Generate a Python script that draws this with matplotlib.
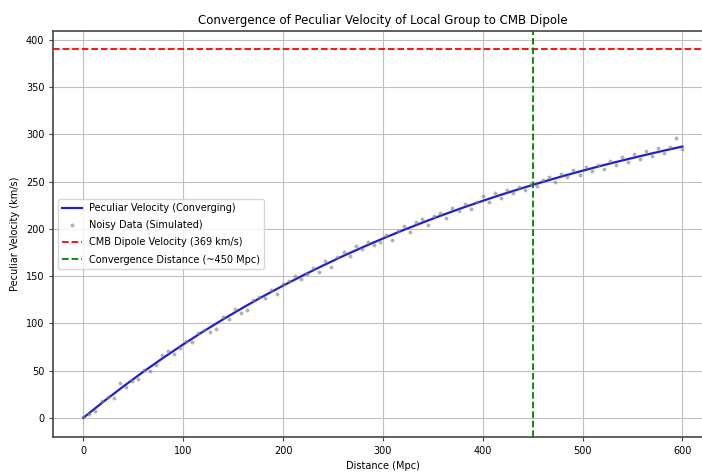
import numpy as np
import matplotlib
matplotlib.use('Agg')
import matplotlib.pyplot as plt

# smooth converging curve
dist_curve = [0, 20, 40, 60, 80, 100, 120, 140, 160, 180, 200, 220, 240, 260, 280,
              300, 320, 340, 360, 380, 400, 420, 440, 460, 480, 500, 520, 540, 560,
              580, 600]
vel_curve = [0.0, 17.0, 33.2, 48.7, 63.5, 77.7, 91.3, 104.3, 116.7, 128.6, 139.9,
             150.8, 161.2, 171.2, 180.7, 189.8, 198.5, 206.8, 214.8, 222.4, 229.7,
             236.7, 243.3, 249.7, 255.8, 261.6, 267.2, 272.5, 277.6, 282.5, 287.2]

# noisy simulated points
dist_noisy = [0.0, 6.1, 12.1, 18.2, 24.2, 30.3, 36.4, 42.4, 48.5, 54.5, 60.6, 66.7,
              72.7, 78.8, 84.8, 90.9, 97.0, 103.0, 109.1, 115.2, 121.2, 127.3, 133.3,
              139.4, 145.5, 151.5, 157.6, 163.6, 169.7, 175.8, 181.8, 187.9, 193.9,
              200.0, 206.1, 212.1, 218.2, 224.2, 230.3, 236.4, 242.4, 248.5, 254.5,
              260.6, 266.7, 272.7, 278.8, 284.8, 290.9, 297.0, 303.0, 309.1, 315.2,
              321.2, 327.3, 333.3, 339.4, 345.5, 351.5, 357.6, 363.6, 369.7, 375.8,
              381.8, 387.9, 393.9, 400.0, 406.1, 412.1, 418.2, 424.2, 430.3, 436.4,
              442.4, 448.5, 454.5, 460.6, 466.7, 472.7, 478.8, 484.8, 490.9, 497.0,
              503.0, 509.1, 515.2, 521.2, 527.3, 533.3, 539.4, 545.5, 551.5, 557.6,
              563.6, 569.7, 575.8, 581.8, 587.9, 593.9, 600.0]
vel_noisy = [1.0, 4.0, 7.5, 18.0, 22.5, 21.0, 36.5, 33.0, 39.0, 41.5, 51.0, 49.5,
             56.0, 66.0, 70.5, 67.5, 74.0, 81.5, 80.0, 89.5, 93.0, 90.5, 94.0, 106.5,
             105.0, 115.0, 110.5, 114.0, 124.5, 128.0, 127.0, 135.5, 131.0, 141.5,
             145.0, 150.5, 147.0, 152.0, 159.0, 154.5, 165.5, 160.0, 170.0, 175.5,
             171.0, 182.0, 178.5, 186.0, 182.5, 186.0, 193.5, 188.0, 198.0, 203.5,
             197.0, 207.0, 210.5, 204.0, 213.5, 217.0, 211.5, 222.0, 219.0, 226.5,
             221.0, 229.0, 234.5, 228.0, 237.5, 232.5, 241.0, 238.0, 244.5, 241.5,
             248.0, 245.0, 251.5, 255.0, 249.5, 258.0, 254.5, 262.0, 257.0, 265.5,
             261.5, 268.0, 263.5, 272.0, 267.5, 276.5, 271.0, 279.0, 274.5, 282.0,
             277.0, 285.5, 280.5, 287.0, 296.5, 285.0]

cmb_velocity = 390
conv_distance = 450

fig = plt.figure(figsize=(7.02, 4.72), dpi=100)
ax = fig.add_axes([0.0761, 0.0748, 0.9386, 0.8595])

ax.plot(dist_curve, vel_curve, color='#1f1fd0', lw=1.6,
        label='Peculiar Velocity (Converging)')
ax.plot(dist_noisy, vel_noisy, 'o', color='gray', alpha=0.6, markersize=2.8,
        markeredgewidth=0, label='Noisy Data (Simulated)')
ax.axhline(cmb_velocity, color='red', ls='--', lw=1.3,
           label='CMB Dipole Velocity (369 km/s)')
ax.axvline(conv_distance, color='green', ls='--', lw=1.3,
           label='Convergence Distance (~450 Mpc)')

ax.set_xlim(-30, 630)
ax.set_ylim(-20, 409.5)
ax.set_xticks([0, 100, 200, 300, 400, 500, 600])
ax.set_yticks([0, 50, 100, 150, 200, 250, 300, 350, 400])
ax.tick_params(labelsize=7, length=3, color='#444444')
for s in ax.spines.values():
    s.set_color('#444444')
    s.set_linewidth(1.2)

ax.grid(True, color='#c0c0c0', lw=0.8)
ax.set_title('Convergence of Peculiar Velocity of Local Group to CMB Dipole',
             fontsize=8.5, pad=5)
ax.set_xlabel('Distance (Mpc)', fontsize=7, labelpad=4)
ax.set_ylabel('Peculiar Velocity (km/s)', fontsize=7, labelpad=4)
ax.legend(loc='center left', fontsize=7, framealpha=0.8, labelspacing=0.75)

fig.savefig('out.png', dpi=100)
